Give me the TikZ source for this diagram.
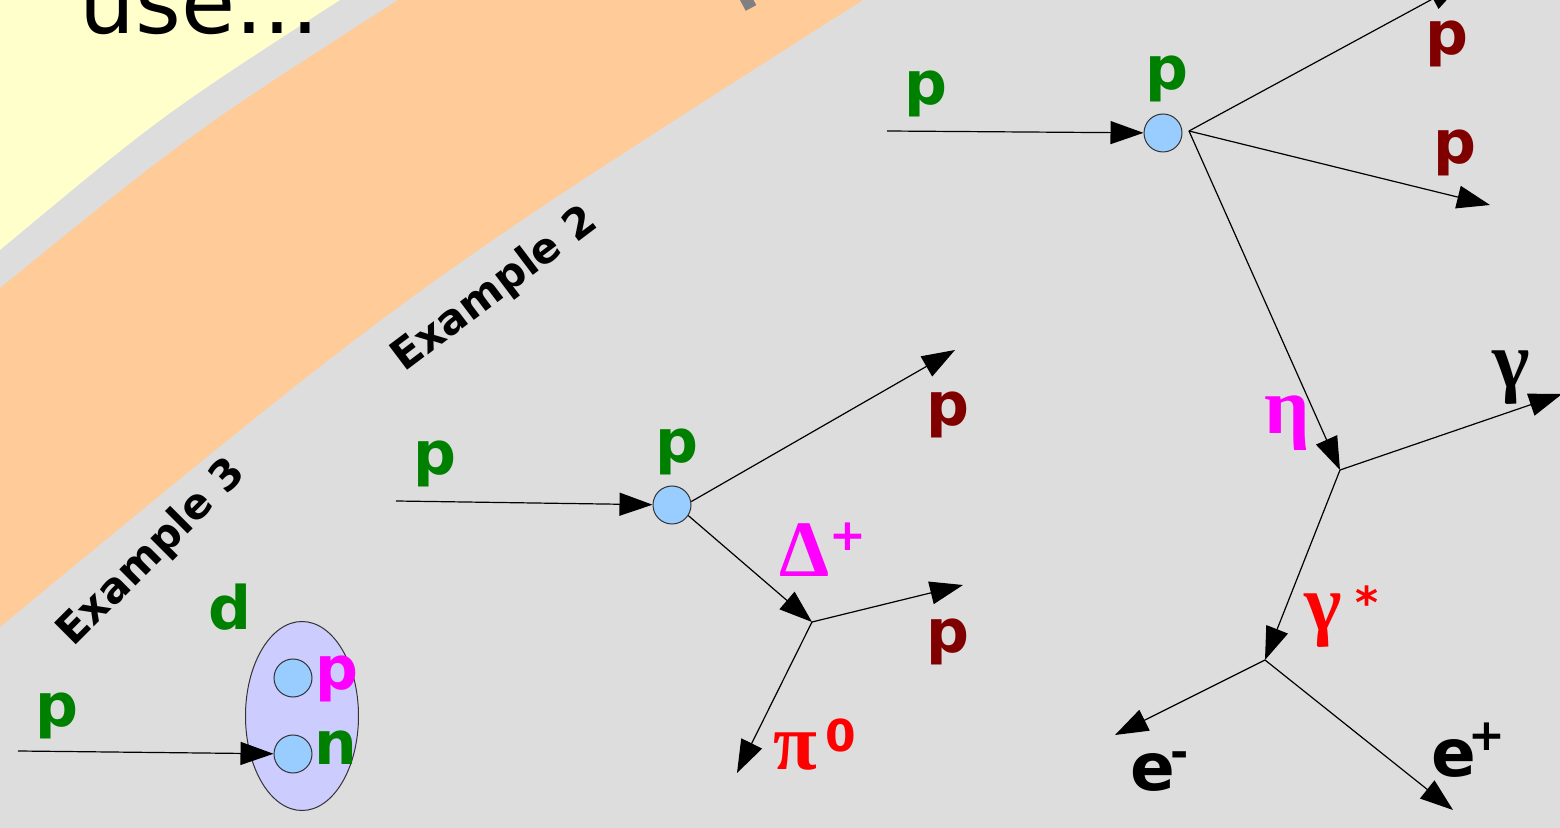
\documentclass[tikz,border=0pt]{standalone}
\usepackage{fontspec}
\setmainfont{DejaVu Sans}
\newfontfamily\grk{Liberation Serif}
\usepackage{tikz}
\usetikzlibrary{arrows.meta,shapes.geometric}
\definecolor{bg}{HTML}{DDDDDD}
\definecolor{sun}{HTML}{FFFFCC}
\definecolor{band}{HTML}{FFCC99}
\definecolor{beam}{HTML}{008000}
\definecolor{fin}{HTML}{800000}
\definecolor{mid}{HTML}{FF00FF}
\definecolor{hot}{HTML}{FF0000}
\definecolor{nuc}{HTML}{99CCFF}
\definecolor{deut}{HTML}{CCCCFF}
\tikzset{
  lbl/.style={font=\fontsize{30}{30}\selectfont\bfseries, inner sep=0pt},
  blk/.style={font=\fontsize{33}{33}\selectfont\bfseries, inner sep=0pt},
  glbl/.style={font=\fontsize{40}{40}\selectfont\grk\bfseries, inner sep=0pt},
  hi/.style={font=\fontsize{22}{22}\selectfont\bfseries, inner sep=0pt},
  ex/.style={font=\fontsize{21}{21}\selectfont\bfseries, inner sep=0pt},
  trk/.style={-{Triangle[length=16.5pt,width=11.5pt]}, line width=0.6pt, draw=black},
  ball/.style={circle, draw=black!80, fill=nuc, minimum size=19pt, inner sep=0pt, line width=0.5pt},
  dbag/.style={ellipse, draw=black!80, fill=deut, minimum width=56.5pt, minimum height=94.5pt, inner sep=0pt, line width=0.5pt},
}

\begin{document}
\begin{tikzpicture}[x=0.5pt,y=-0.5pt]
  \useasboundingbox (0,0) rectangle (1560,828);
  \clip (0,0) rectangle (1560,828);
  % slide background
  \fill[bg] (0,0) rectangle (1560,828);
  \fill[sun] (0,0) -- (340,0) .. controls (162,115) .. (0,250) -- cycle;
  \fill[band] (398,0) -- (863,0) .. controls (412,287) .. (0,627) -- (0,288)
    .. controls (191,133) .. (398,0) -- cycle;
  \draw[gray, line width=6pt] (751,8) -- (737,-18);
  \node[font=\fontsize{44}{44}\selectfont, anchor=base west, inner sep=0pt] (use) at (79,34) {use...};
  \node[ex, rotate=37] (ex2) at (495,290) {Example 2};
  \node[ex, rotate=45] (ex3) at (152,553) {Example 3};

  % example 1: p p -> p p eta, eta -> gamma gamma*, gamma* -> e- e+
  \node[ball] (c1) at (1163,133) {};
  \coordinate (a1) at (887,131);
  \coordinate (v1) at (1189,131);
  \coordinate (v2) at (1340,470);
  \coordinate (v3) at (1265,660);
  \coordinate (t1) at (1462,-17);
  \coordinate (t2) at (1490,205);
  \coordinate (t3) at (1562,394);
  \coordinate (t4) at (1115,735);
  \coordinate (t5) at (1453,810);
  \draw[trk] (a1) -- (c1);
  \draw[trk] (v1) -- (t1);
  \draw[trk] (v1) -- (t2);
  \draw[trk] (v1) -- (v2);
  \draw[trk] (v2) -- (t3);
  \draw[trk] (v2) -- (v3);
  \draw[trk] (v3) -- (t4);
  \draw[trk] (v3) -- (t5);
  \node[lbl, beam] (p1in) at (926,94) {p};
  \node[lbl, beam] (p1) at (1167,79) {p};
  \node[lbl, fin] (p1a) at (1447,44) {p};
  \node[lbl, fin] (p1b) at (1455,153) {p};
  \node[glbl, mid] (eta) at (1287,423) {η};
  \node[glbl] (gam) at (1511,378) {γ};
  \node[glbl, hot] (gams) at (1323,621) {γ};
  \node[hi, hot] (star) at (1367,602) {*};
  \node[blk] (em) at (1153,772) {e};
  \node[hi] (minus) at (1180,760) {-};
  \node[blk] (ep) at (1454,758) {e};
  \node[hi] (plus) at (1487,737) {+};

  % example 2: p p -> p Delta+, Delta+ -> p pi0
  \node[ball] (c2) at (672,505) {};
  \coordinate (a2) at (396,501);
  \coordinate (v4) at (812,622);
  \coordinate (t6) at (955,350);
  \coordinate (t7) at (963,585);
  \coordinate (t8) at (737,773);
  \draw[trk] (a2) -- (c2);
  \draw[trk] (c2.10) -- (t6);
  \draw[trk] (c2.-33) -- (v4);
  \draw[trk] (v4) -- (t7);
  \draw[trk] (v4) -- (t8);
  \node[lbl, beam] (p2in) at (435,464) {p};
  \node[lbl, beam] (p2) at (677,452) {p};
  \node[lbl, fin] (p2a) at (948,415) {p};
  \node[lbl, fin] (p2b) at (948,642) {p};
  \node[glbl, mid] (dlt) at (805,550) {Δ};
  \node[hi, mid] (dltq) at (848,537) {+};
  \node[glbl, hot] (pi) at (795,752) {π};
  \node[hi, hot] (piq) at (841,735) {0};

  % example 3: p d
  \node[dbag] (d) at (302,716) {};
  \node[ball] (cp) at (293,678) {};
  \node[ball] (cn) at (293,754) {};
  \coordinate (a3) at (18,751);
  \draw[trk] (a3) -- (cn);
  \node[lbl, beam] (p3in) at (57,716) {p};
  \node[lbl, beam] (dl) at (230,607) {d};
  \node[lbl, mid] (pl) at (337,679) {p};
  \node[lbl, beam] (nl) at (336,748) {n};
\end{tikzpicture}
\end{document}
